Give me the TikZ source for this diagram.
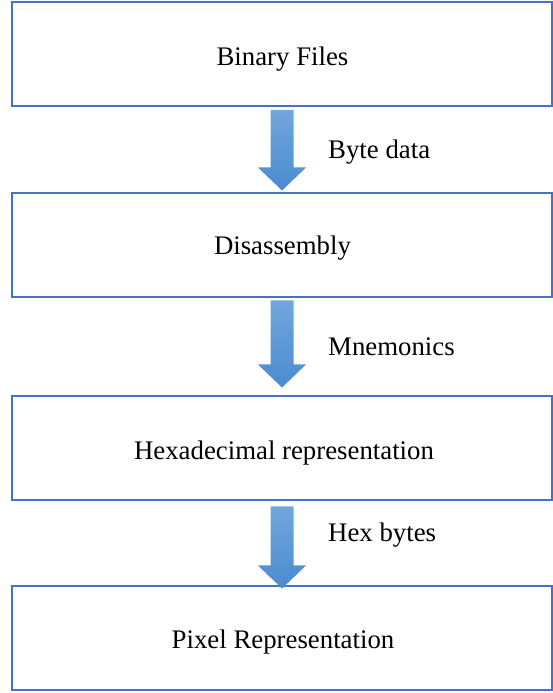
\documentclass[tikz,border=0pt]{standalone}
\usepackage{fontspec}
\setmainfont{Liberation Serif}
\usetikzlibrary{calc}
\definecolor{boxline}{HTML}{4472C4}
\definecolor{arrtop}{HTML}{71A7DD}
\definecolor{arrbot}{HTML}{4A8BCF}
\tikzset{
  stagebox/.style={draw=boxline, line width=2pt, fill=white, minimum width=540pt, minimum height=104pt, inner sep=0pt},
  stagetext/.style={inner sep=0pt, font=\fontsize{26.8}{32}\selectfont},
  flowlabel/.style={anchor=west, inner sep=0pt, font=\fontsize{26.8}{32}\selectfont},
  arrowshade/.style={top color=arrtop, bottom color=arrbot, draw=none}
}
% #1 from node, #2 to node, #3 gap below from, #4 tip offset above to.north
\newcommand\blockarrow[4]{%
  \shade[arrowshade]
    ($(#1.south)+(-11.5,-#3)$) -- ($(#1.south)+(11.5,-#3)$)
    -- ($(#2.north)+(11.5,#4+23)$) -- ($(#2.north)+(24,#4+23)$)
    -- ($(#2.north)+(0,#4)$)
    -- ($(#2.north)+(-24,#4+23)$) -- ($(#2.north)+(-11.5,#4+23)$) -- cycle;}
\begin{document}
\begin{tikzpicture}[x=1pt,y=1pt]
\useasboundingbox (0,0) rectangle (553,693);
\node[stagebox] (b1) at (282,639) {};
\node[stagebox] (b2) at (282,447.5) {};
\node[stagebox] (b3) at (282,244.5) {};
\node[stagebox] (b4) at (282,54.5) {};
\node[stagetext] (t1) at ($(b1.center)+(0.5,-5)$) {Binary Files};
\node[stagetext] (t2) at ($(b2.center)+(0.5,-3)$) {Disassembly};
\node[stagetext] (t3) at ($(b3.center)+(2,-5)$) {Hexadecimal representation};
\node[stagetext] (t4) at ($(b4.center)+(1,-4)$) {Pixel Representation};
\blockarrow{b1}{b2}{3}{2}
\blockarrow{b2}{b3}{2}{8}
\blockarrow{b3}{b4}{5}{-3}
\node[flowlabel] (l1) at (328,541) {Byte data};
\node[flowlabel] (l2) at (328,346) {Mnemonics};
\node[flowlabel] (l3) at (328,158) {Hex bytes};
\end{tikzpicture}
\end{document}
